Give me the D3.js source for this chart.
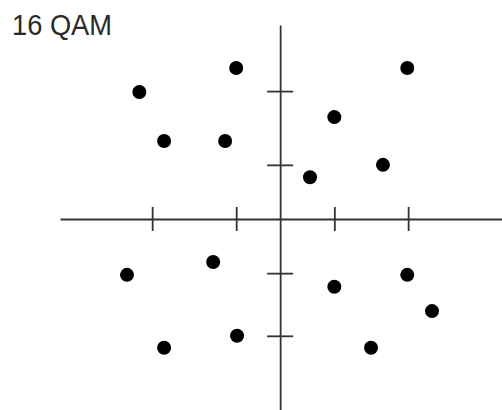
<!DOCTYPE html>
<html>
<head>
<meta charset="utf-8">
<script src="https://cdn.jsdelivr.net/npm/d3@7"></script>
<style>
  html, body { margin: 0; padding: 0; background: #fff; }
  svg { display: block; }
</style>
</head>
<body>
<svg id="chart" width="502" height="410"></svg>
<script>
// Constellation points (in-phase, quadrature)
const pointI = [-1.03, -3.30, -2.72, -1.29, 2.98, 1.27, 2.41, 0.70,
                -3.59, -1.57, -2.72, -1.01, 1.27, 2.98, 3.56, 2.13];
const pointQ = [3.54, 2.98, 1.83, 1.83, 3.54, 2.39, 1.27, 0.98,
                -1.31, -1.01, -3.02, -2.74, -1.59, -1.31, -2.16, -3.02];
// Tick positions on each axis
const xTicks = [-3, -1.03, 1.27, 3];
const yTicks = [3, 1.27, -1.27, -2.74];
const title = "16 QAM";

const svg = d3.select("#chart");

const x = d3.scaleLinear().domain([-5.16, 5.2]).range([60, 502]);
const y = d3.scaleLinear().domain([-4.48, 4.55]).range([410, 25]);

const axisColor = "#333";

// Horizontal axis through the origin, ticks crossing the line
const gx = svg.append("g")
  .attr("transform", `translate(0,${y(0)})`)
  .call(d3.axisBottom(x).tickValues(xTicks).tickSizeInner(12).tickSizeOuter(0).tickFormat(""));
gx.select(".domain").attr("stroke", axisColor).attr("stroke-width", 1.8);
gx.selectAll(".tick line").attr("y1", -12).attr("y2", 12)
  .attr("stroke", axisColor).attr("stroke-width", 1.8);

// Vertical axis through the origin
const gy = svg.append("g")
  .attr("transform", `translate(${x(0)},0)`)
  .call(d3.axisLeft(y).tickValues(yTicks).tickSizeInner(13).tickSizeOuter(0).tickFormat(""));
gy.select(".domain").attr("stroke", axisColor).attr("stroke-width", 1.8);
gy.selectAll(".tick line").attr("x1", -13).attr("x2", 13)
  .attr("stroke", axisColor).attr("stroke-width", 1.8);

// Symbols
svg.append("g").selectAll("circle")
  .data(d3.range(pointI.length))
  .join("circle")
  .attr("cx", i => x(pointI[i]))
  .attr("cy", i => y(pointQ[i]))
  .attr("r", 7)
  .attr("fill", "#000");

svg.append("text")
  .attr("x", 12)
  .attr("y", 35)
  .attr("font-family", "'Liberation Sans', Arial, sans-serif")
  .attr("font-size", 29)
  .attr("textLength", 100)
  .attr("lengthAdjust", "spacingAndGlyphs")
  .attr("fill", "#2a2a2a")
  .text(title);
</script>
</body>
</html>
